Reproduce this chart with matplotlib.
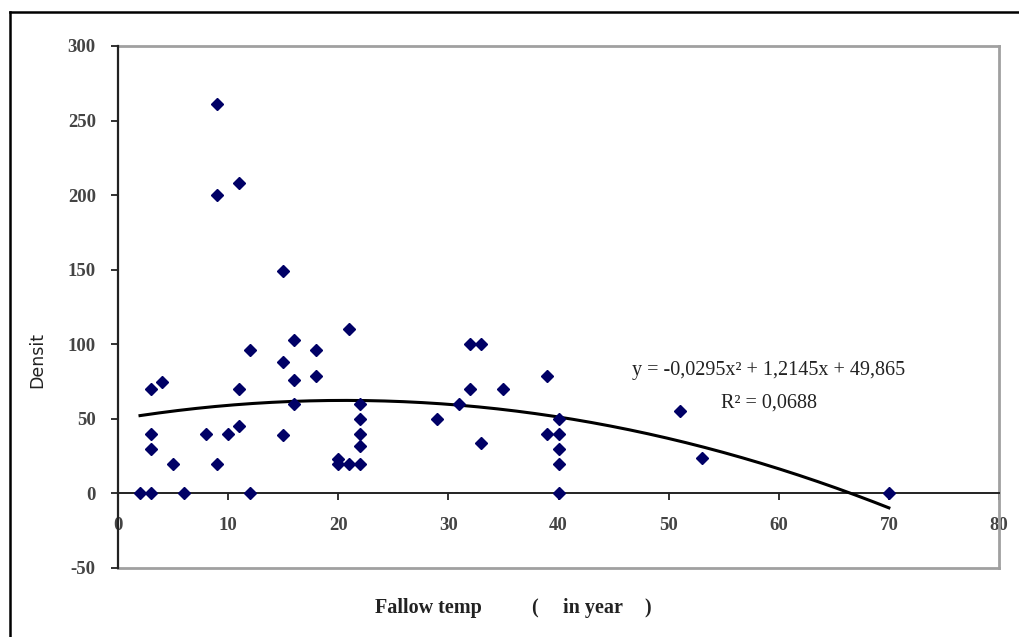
import numpy as np
import matplotlib
matplotlib.use("Agg")
import matplotlib.pyplot as plt
from matplotlib.lines import Line2D

# ---- data ----
fallow_years = [2, 3, 3, 4, 3, 3, 5, 6, 8, 9, 9, 9, 10, 11, 11, 11, 12, 12,
                15, 15, 15, 16, 16, 16, 18, 18, 20, 20, 21, 22, 21, 22, 22, 22, 22,
                29, 31, 32, 33, 32, 33, 35, 39, 39, 40, 40, 40, 40, 40, 51, 53, 70]
density = [0, 0, 70, 75, 40, 30, 20, 0, 40, 20, 261, 200, 40, 45, 70, 208, 96, 0,
           88, 39, 149, 103, 76, 60, 96, 79, 23, 20, 20, 20, 110, 60, 50, 40, 32,
           50, 60, 100, 100, 70, 34, 70, 79, 40, 50, 40, 30, 20, 0, 55, 24, 0]

# trendline coefficients as printed on the chart (a*x^2 + b*x + c)
trend_coefs = [-0.0295, 1.2145, 49.865]
trend_range = [2, 70]
equation_label = "y = -0,0295x\u00b2 + 1,2145x + 49,865"
r2_label = "R\u00b2 = 0,0688"

x_ticks = [0, 10, 20, 30, 40, 50, 60, 70, 80]
y_ticks = [-50, 0, 50, 100, 150, 200, 250, 300]
y_label = "Densit"
x_label_parts = ["Fallow temp", "(", "in year", ")"]

W, H = 1020, 637
fig = plt.figure(figsize=(W / 100, H / 100), dpi=100)
fig.patch.set_facecolor("white")

L, R, T, B = 118, 999, 46, 568
ax = fig.add_axes([L / W, 1 - B / H, (R - L) / W, (B - T) / H])
ax.set_xlim(0, 80)
ax.set_ylim(-50, 300)

# scatter
ax.plot(fallow_years, density, linestyle="none", marker="D", markersize=5.8,
        color="#000066", zorder=4, clip_on=False)

# trendline
xs = np.linspace(trend_range[0], trend_range[1], 200)
ax.plot(xs, np.polyval(trend_coefs, xs), color="black", lw=2.2, zorder=3)

# spines
grey = "#a0a0a0"
ax.spines["top"].set_color(grey)
ax.spines["top"].set_linewidth(2)
ax.spines["right"].set_color(grey)
ax.spines["right"].set_linewidth(2)
ax.spines["left"].set_color("#222222")
ax.spines["left"].set_linewidth(1.6)
ax.spines["left"].set_zorder(5)
ax.spines["bottom"].set_position(("data", 0))
ax.spines["bottom"].set_color("#222222")
ax.spines["bottom"].set_linewidth(1.4)
ax.add_line(Line2D([0, 1], [0, 0], transform=ax.transAxes, color=grey, lw=2,
                   clip_on=False, zorder=2))

tick_font = {"family": "Liberation Serif", "weight": "bold", "size": 13.5}
ax.set_xticks(x_ticks)
ax.set_yticks(y_ticks)
ax.set_xticklabels([str(v) for v in x_ticks], fontdict=tick_font, color="#444444")
ax.set_yticklabels([str(v) for v in y_ticks], fontdict=tick_font, color="#444444")
ax.tick_params(axis="x", direction="out", length=5, width=1.3, pad=12, color="#222222")
ax.tick_params(axis="y", direction="out", length=5, width=1.3, pad=11, color="#222222")

# axis labels
fig.text(37 / W, 1 - 360 / H, y_label, rotation=90, ha="center", va="center",
         fontsize=12.5, family="DejaVu Sans", color="#222222")
xl_font = dict(family="Liberation Serif", weight="bold", fontsize=14.5, color="#222222")
for txt, cx in zip(x_label_parts, [428, 535, 593, 648]):
    fig.text(cx / W, 1 - 608 / H, txt, ha="center", va="center", **xl_font)

# equation
eq_font = dict(family="Liberation Serif", fontsize=14.5, color="#222222")
ax.text(769 / W, 1 - 371 / H, equation_label, transform=fig.transFigure,
        ha="center", va="center", **eq_font)
ax.text(769 / W, 1 - 403 / H, r2_label, transform=fig.transFigure,
        ha="center", va="center", **eq_font)

# outer chart border (left and top edges visible)
fig.add_artist(Line2D([10 / W, 1.0], [1 - 12 / H, 1 - 12 / H], color="black", lw=1.8))
fig.add_artist(Line2D([10 / W, 10 / W], [0, 1 - 12 / H], color="black", lw=1.8))

fig.savefig("out.png", dpi=100, facecolor="white")
